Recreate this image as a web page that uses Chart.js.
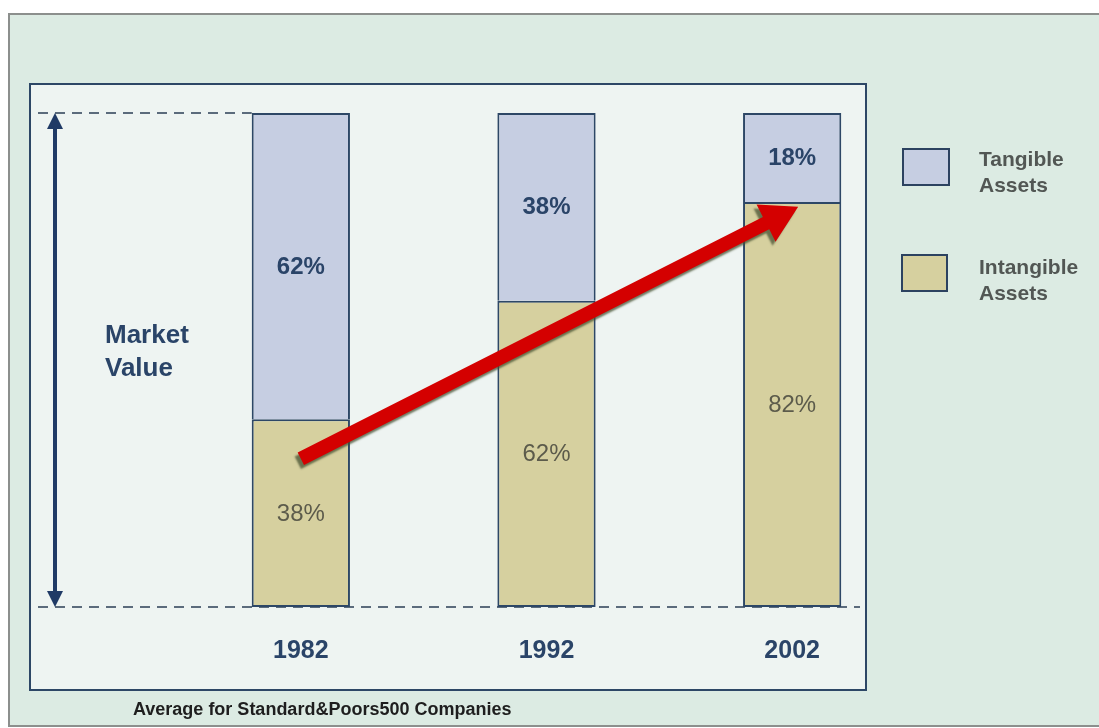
<!DOCTYPE html>
<html>
<head>
<meta charset="utf-8">
<script src="https://cdn.jsdelivr.net/npm/chart.js@4.4.1/dist/chart.umd.min.js"></script>
<style>
  html, body { margin: 0; padding: 0; background: #ffffff; overflow: hidden; }
  canvas { display: block; }
</style>
</head>
<body>
<canvas id="c" width="1099" height="728"></canvas>
<script>
// Share of market value, S&P 500 companies
const years = ['1982', '1992', '2002'];
const intangibleShare = [38, 62, 82];
const tangibleShare = [62, 38, 18];
const seriesNames = ['Intangible Assets', 'Tangible Assets'];
// Trend arrow runs from the 1982 intangible block up to the 2002 level
const trendFrom = 30;
const trendTo = 81;
const axisCaption = ['Market', 'Value'];
const footnote = 'Average for Standard&Poors500 Companies';

const FONT = '"Liberation Sans", Arial, Helvetica, sans-serif';
const NAVY = '#2a4468';
const EDGE = '#2d4766';
const TANGIBLE = '#c6cee2';
const INTANGIBLE = '#d6d09f';
const X_AXIS_HEIGHT = 60;

function polyArrow(ctx, x0, y0, x1, y1, shaft, headLen, headHalf) {
  const dx = x1 - x0, dy = y1 - y0, L = Math.hypot(dx, dy);
  const ux = dx / L, uy = dy / L, nx = -uy, ny = ux;
  const bx = x1 - ux * headLen, by = y1 - uy * headLen;
  ctx.beginPath();
  ctx.moveTo(x0 + nx * shaft / 2, y0 + ny * shaft / 2);
  ctx.lineTo(bx + nx * shaft / 2, by + ny * shaft / 2);
  ctx.lineTo(bx + nx * headHalf, by + ny * headHalf);
  ctx.lineTo(x1, y1);
  ctx.lineTo(bx - nx * headHalf, by - ny * headHalf);
  ctx.lineTo(bx - nx * shaft / 2, by - ny * shaft / 2);
  ctx.lineTo(x0 - nx * shaft / 2, y0 - ny * shaft / 2);
  ctx.closePath();
  ctx.fill();
}

const decor = {
  id: 'decor',
  beforeDraw(chart) {
    const ctx = chart.ctx;
    ctx.save();
    ctx.fillStyle = '#ffffff';
    ctx.fillRect(0, 0, chart.width, chart.height);
    // outer panel
    ctx.fillStyle = '#dcebe3';
    ctx.fillRect(9, 14, chart.width, 712);
    ctx.strokeStyle = '#8c8f8d';
    ctx.lineWidth = 2;
    ctx.strokeRect(9, 14, chart.width + 10, 712);
    // inner panel
    ctx.fillStyle = '#eef4f2';
    ctx.fillRect(30, 84, 836, 606);
    ctx.strokeStyle = EDGE;
    ctx.lineWidth = 2;
    ctx.strokeRect(30, 84, 836, 606);
    ctx.restore();
  },
  beforeDatasetsDraw(chart) {
    const ctx = chart.ctx;
    const y = chart.scales.y;
    const top = y.getPixelForValue(100), bottom = y.getPixelForValue(0);
    const first = chart.getDatasetMeta(0).data[0];
    ctx.save();
    ctx.strokeStyle = '#5b6b7c';
    ctx.lineWidth = 2;
    ctx.setLineDash([10, 7]);
    ctx.beginPath();
    ctx.moveTo(38, top);
    ctx.lineTo(first.x - first.width / 2, top);
    ctx.moveTo(38, bottom);
    ctx.lineTo(860, bottom);
    ctx.stroke();
    ctx.restore();
  },
  afterDatasetsDraw(chart) {
    const ctx = chart.ctx;
    ctx.save();
    ctx.textAlign = 'center';
    ctx.textBaseline = 'middle';
    chart.data.datasets.forEach((ds, di) => {
      const meta = chart.getDatasetMeta(di);
      meta.data.forEach((bar, i) => {
        const cy = (bar.y + bar.base) / 2;
        if (di === 1) {
          ctx.fillStyle = NAVY;
          ctx.font = 'bold 24px ' + FONT;
        } else {
          ctx.fillStyle = '#5c5b4b';
          ctx.font = '24px ' + FONT;
        }
        ctx.fillText(ds.data[i] + '%', bar.x, cy + 1);
      });
    });
    ctx.restore();
  },
  afterDraw(chart) {
    const ctx = chart.ctx;
    const x = chart.scales.x, y = chart.scales.y;
    const top = y.getPixelForValue(100), bottom = y.getPixelForValue(0);
    ctx.save();

    // double-headed market value arrow
    ctx.strokeStyle = '#1f3a66';
    ctx.fillStyle = '#1f3a66';
    ctx.lineWidth = 4;
    ctx.beginPath();
    ctx.moveTo(55, top + 12);
    ctx.lineTo(55, bottom - 12);
    ctx.stroke();
    ctx.beginPath();
    ctx.moveTo(55, top); ctx.lineTo(63, top + 16); ctx.lineTo(47, top + 16); ctx.closePath(); ctx.fill();
    ctx.beginPath();
    ctx.moveTo(55, bottom); ctx.lineTo(63, bottom - 16); ctx.lineTo(47, bottom - 16); ctx.closePath(); ctx.fill();

    ctx.fillStyle = NAVY;
    ctx.font = 'bold 26px ' + FONT;
    ctx.textAlign = 'left';
    ctx.textBaseline = 'middle';
    ctx.fillText(axisCaption[0], 105, 336);
    ctx.fillText(axisCaption[1], 105, 369);

    // red trend arrow with soft shadow
    const x0 = x.getPixelForValue(0), y0 = y.getPixelForValue(trendFrom);
    const x1 = x.getPixelForValue(2) + 6, y1 = y.getPixelForValue(trendTo);
    ctx.save();
    ctx.shadowColor = 'rgba(70, 80, 50, 0.75)';
    ctx.shadowOffsetX = -3;
    ctx.shadowOffsetY = 4;
    ctx.shadowBlur = 2;
    ctx.fillStyle = '#d40000';
    polyArrow(ctx, x0, y0, x1, y1, 14, 36, 21);
    ctx.restore();

    // legend
    const items = [
      { fill: TANGIBLE, lines: ['Tangible', 'Assets'], box: [903, 149, 46, 36], ty: 160 },
      { fill: INTANGIBLE, lines: ['Intangible', 'Assets'], box: [902, 255, 45, 36], ty: 268 }
    ];
    items.forEach(it => {
      ctx.fillStyle = it.fill;
      ctx.fillRect(...it.box);
      ctx.strokeStyle = '#2c4260';
      ctx.lineWidth = 2;
      ctx.strokeRect(...it.box);
      ctx.fillStyle = '#525754';
      ctx.font = 'bold 21px ' + FONT;
      ctx.textAlign = 'left';
      ctx.textBaseline = 'middle';
      ctx.fillText(it.lines[0], 979, it.ty);
      ctx.fillText(it.lines[1], 979, it.ty + 26);
    });

    // footnote
    ctx.fillStyle = '#1e1e1e';
    ctx.font = 'bold 18px ' + FONT;
    ctx.fillText(footnote, 133, 710);
    ctx.restore();
  }
};

new Chart(document.getElementById('c'), {
  type: 'bar',
  data: {
    labels: years,
    datasets: [
      {
        label: seriesNames[0],
        data: intangibleShare,
        backgroundColor: INTANGIBLE,
        borderColor: EDGE,
        borderWidth: { top: 2, left: 2, right: 2, bottom: 2 },
        borderSkipped: false,
        barPercentage: 1,
        categoryPercentage: 0.4
      },
      {
        label: seriesNames[1],
        data: tangibleShare,
        backgroundColor: TANGIBLE,
        borderColor: EDGE,
        borderWidth: { top: 2, left: 2, right: 2, bottom: 0 },
        borderSkipped: false,
        barPercentage: 1,
        categoryPercentage: 0.4
      }
    ]
  },
  options: {
    responsive: false,
    animation: false,
    devicePixelRatio: 1,
    layout: { padding: { left: 178, right: 184, top: 113, bottom: 121 - X_AXIS_HEIGHT } },
    plugins: { legend: { display: false }, tooltip: { enabled: false } },
    scales: {
      x: {
        stacked: true,
        grid: { display: false, drawTicks: false },
        border: { display: false },
        ticks: {
          padding: 29,
          color: NAVY,
          font: { family: FONT, size: 25, weight: 'bold' }
        },
        afterFit(scale) { scale.height = X_AXIS_HEIGHT; }
      },
      y: { stacked: true, display: false, min: 0, max: 100 }
    }
  },
  plugins: [decor]
});
</script>
</body>
</html>
